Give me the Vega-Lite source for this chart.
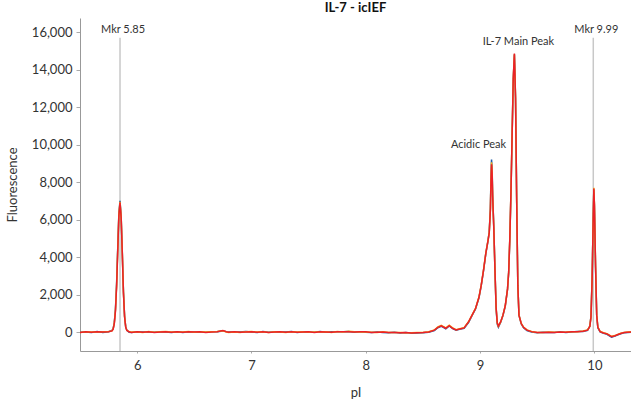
{
  "$schema": "https://vega.github.io/schema/vega-lite/v6.json",
  "width": 551,
  "height": 333,
  "autosize": {"type": "none"},
  "padding": {"left": 80, "top": 18, "right": 0, "bottom": 49},
  "background": "white",
  "config": {
    "view": {"stroke": null},
    "font": "Lato",
    "axis": {"labelFont": "Lato", "titleFont": "Lato", "labelColor": "#333", "titleColor": "#333", "grid": false, "domainColor": "#999", "tickColor": "#aaa", "labelFontSize": 13, "titleFontSize": 13, "titleFontWeight": "normal"}
  },
  "title": {"text": "IL-7 - icIEF", "fontSize": 13, "fontWeight": "bold", "font": "Lato", "color": "#111", "anchor": "middle", "offset": 3},
  "datasets": {
    "trace": [
      {"p": 5.50, "r": -20, "b": -10, "o": -30},
      {"p": 5.55, "r": 10, "b": 0, "o": 20},
      {"p": 5.60, "r": -10, "b": -30, "o": 0},
      {"p": 5.65, "r": 15, "b": 30, "o": 5},
      {"p": 5.70, "r": 0, "b": -20, "o": 10},
      {"p": 5.75, "r": 20, "b": 10, "o": 30},
      {"p": 5.78, "r": 60, "b": 80, "o": 60},
      {"p": 5.79, "r": 150, "b": 180, "o": 160},
      {"p": 5.80, "r": 450, "b": 500, "o": 470},
      {"p": 5.81, "r": 1100, "b": 1200, "o": 1150},
      {"p": 5.82, "r": 2400, "b": 2550, "o": 2450},
      {"p": 5.83, "r": 4300, "b": 4450, "o": 4350},
      {"p": 5.84, "r": 6200, "b": 6300, "o": 6250},
      {"p": 5.85, "r": 6900, "b": 7000, "o": 6950},
      {"p": 5.86, "r": 6100, "b": 6150, "o": 6150},
      {"p": 5.87, "r": 4200, "b": 4250, "o": 4250},
      {"p": 5.88, "r": 2100, "b": 2150, "o": 2150},
      {"p": 5.89, "r": 800, "b": 850, "o": 830},
      {"p": 5.90, "r": 250, "b": 270, "o": 260},
      {"p": 5.91, "r": 80, "b": 90, "o": 90},
      {"p": 5.93, "r": 10, "b": -10, "o": 20},
      {"p": 5.95, "r": -20, "b": -30, "o": 0},
      {"p": 6.00, "r": 10, "b": 20, "o": 0},
      {"p": 6.05, "r": -10, "b": 0, "o": -20},
      {"p": 6.10, "r": 20, "b": 0, "o": 30},
      {"p": 6.15, "r": -20, "b": -10, "o": -10},
      {"p": 6.20, "r": 0, "b": 20, "o": 10},
      {"p": 6.25, "r": 15, "b": -5, "o": 25},
      {"p": 6.30, "r": -15, "b": -25, "o": 0},
      {"p": 6.35, "r": 10, "b": 20, "o": 0},
      {"p": 6.40, "r": -10, "b": -20, "o": 5},
      {"p": 6.45, "r": 20, "b": 10, "o": 30},
      {"p": 6.50, "r": -5, "b": 5, "o": -15},
      {"p": 6.55, "r": 10, "b": -10, "o": 20},
      {"p": 6.60, "r": -20, "b": -10, "o": -5},
      {"p": 6.65, "r": 0, "b": 15, "o": 10},
      {"p": 6.70, "r": 20, "b": 10, "o": 30},
      {"p": 6.75, "r": 80, "b": 60, "o": 70},
      {"p": 6.78, "r": 10, "b": 20, "o": 0},
      {"p": 6.80, "r": -10, "b": 0, "o": -20},
      {"p": 6.85, "r": 10, "b": 20, "o": 0},
      {"p": 6.90, "r": -15, "b": -5, "o": -25},
      {"p": 6.95, "r": 5, "b": 25, "o": 10},
      {"p": 7.00, "r": 20, "b": 0, "o": 30},
      {"p": 7.05, "r": -10, "b": -20, "o": 0},
      {"p": 7.10, "r": 10, "b": 30, "o": 20},
      {"p": 7.15, "r": -20, "b": -10, "o": -30},
      {"p": 7.20, "r": 0, "b": 10, "o": 15},
      {"p": 7.25, "r": 15, "b": -5, "o": 5},
      {"p": 7.30, "r": -10, "b": 0, "o": -20},
      {"p": 7.35, "r": 20, "b": 30, "o": 10},
      {"p": 7.40, "r": -15, "b": -25, "o": -5},
      {"p": 7.45, "r": 5, "b": 15, "o": 20},
      {"p": 7.50, "r": 10, "b": 0, "o": -10},
      {"p": 7.55, "r": -20, "b": -10, "o": 0},
      {"p": 7.60, "r": 15, "b": 25, "o": 5},
      {"p": 7.65, "r": 0, "b": -10, "o": 10},
      {"p": 7.70, "r": -10, "b": 10, "o": -20},
      {"p": 7.75, "r": 20, "b": 10, "o": 30},
      {"p": 7.80, "r": 10, "b": 20, "o": 0},
      {"p": 7.85, "r": 20, "b": 30, "o": 40},
      {"p": 7.90, "r": 0, "b": -10, "o": 10},
      {"p": 7.95, "r": 10, "b": 20, "o": 0},
      {"p": 8.00, "r": 10, "b": -10, "o": 0},
      {"p": 8.05, "r": -20, "b": -30, "o": -10},
      {"p": 8.10, "r": -10, "b": 0, "o": -20},
      {"p": 8.15, "r": 0, "b": -20, "o": 10},
      {"p": 8.20, "r": -30, "b": -40, "o": -20},
      {"p": 8.25, "r": -20, "b": -10, "o": -30},
      {"p": 8.30, "r": -40, "b": -50, "o": -30},
      {"p": 8.35, "r": -30, "b": -20, "o": -40},
      {"p": 8.40, "r": -50, "b": -60, "o": -40},
      {"p": 8.45, "r": -40, "b": -50, "o": -30},
      {"p": 8.50, "r": -30, "b": -40, "o": -20},
      {"p": 8.55, "r": 0, "b": -10, "o": 10},
      {"p": 8.60, "r": 100, "b": 80, "o": 110},
      {"p": 8.63, "r": 250, "b": 230, "o": 270},
      {"p": 8.66, "r": 330, "b": 310, "o": 350},
      {"p": 8.70, "r": 200, "b": 170, "o": 220},
      {"p": 8.73, "r": 340, "b": 320, "o": 360},
      {"p": 8.76, "r": 200, "b": 180, "o": 220},
      {"p": 8.79, "r": 110, "b": 90, "o": 120},
      {"p": 8.82, "r": 160, "b": 140, "o": 170},
      {"p": 8.86, "r": 220, "b": 200, "o": 230},
      {"p": 8.90, "r": 550, "b": 520, "o": 560},
      {"p": 8.93, "r": 900, "b": 880, "o": 910},
      {"p": 8.96, "r": 1250, "b": 1230, "o": 1260},
      {"p": 8.99, "r": 1850, "b": 1830, "o": 1870},
      {"p": 9.01, "r": 2500, "b": 2480, "o": 2520},
      {"p": 9.03, "r": 3300, "b": 3280, "o": 3320},
      {"p": 9.05, "r": 4200, "b": 4180, "o": 4220},
      {"p": 9.07, "r": 4900, "b": 4900, "o": 4920},
      {"p": 9.08, "r": 5300, "b": 5350, "o": 5330},
      {"p": 9.09, "r": 6500, "b": 6600, "o": 6550},
      {"p": 9.095, "r": 8000, "b": 8200, "o": 8100},
      {"p": 9.10, "r": 8950, "b": 9200, "o": 9050},
      {"p": 9.105, "r": 8500, "b": 8700, "o": 8600},
      {"p": 9.11, "r": 7200, "b": 7300, "o": 7250},
      {"p": 9.12, "r": 5500, "b": 5550, "o": 5520},
      {"p": 9.13, "r": 3300, "b": 3300, "o": 3300},
      {"p": 9.14, "r": 1300, "b": 1250, "o": 1300},
      {"p": 9.15, "r": 500, "b": 420, "o": 480},
      {"p": 9.16, "r": 320, "b": 250, "o": 300},
      {"p": 9.18, "r": 550, "b": 520, "o": 540},
      {"p": 9.20, "r": 900, "b": 880, "o": 900},
      {"p": 9.22, "r": 1400, "b": 1380, "o": 1400},
      {"p": 9.24, "r": 2300, "b": 2280, "o": 2300},
      {"p": 9.25, "r": 3200, "b": 3180, "o": 3200},
      {"p": 9.26, "r": 5000, "b": 4950, "o": 5000},
      {"p": 9.27, "r": 7500, "b": 7450, "o": 7500},
      {"p": 9.28, "r": 10500, "b": 10450, "o": 10500},
      {"p": 9.29, "r": 13500, "b": 13450, "o": 13500},
      {"p": 9.30, "r": 14850, "b": 14800, "o": 14820},
      {"p": 9.31, "r": 12500, "b": 12450, "o": 12500},
      {"p": 9.32, "r": 7000, "b": 7000, "o": 7000},
      {"p": 9.33, "r": 2500, "b": 2500, "o": 2500},
      {"p": 9.34, "r": 900, "b": 900, "o": 900},
      {"p": 9.36, "r": 450, "b": 430, "o": 460},
      {"p": 9.38, "r": 250, "b": 230, "o": 260},
      {"p": 9.41, "r": 100, "b": 80, "o": 110},
      {"p": 9.45, "r": 20, "b": 0, "o": 30},
      {"p": 9.50, "r": -30, "b": -40, "o": -20},
      {"p": 9.55, "r": -20, "b": -10, "o": -30},
      {"p": 9.60, "r": -10, "b": -20, "o": 0},
      {"p": 9.65, "r": -20, "b": -30, "o": -10},
      {"p": 9.70, "r": 0, "b": 10, "o": -10},
      {"p": 9.75, "r": -10, "b": -20, "o": 0},
      {"p": 9.80, "r": 10, "b": 0, "o": 20},
      {"p": 9.85, "r": 20, "b": 30, "o": 10},
      {"p": 9.90, "r": 40, "b": 30, "o": 50},
      {"p": 9.94, "r": 100, "b": 90, "o": 110},
      {"p": 9.96, "r": 300, "b": 320, "o": 310},
      {"p": 9.97, "r": 800, "b": 850, "o": 820},
      {"p": 9.98, "r": 2800, "b": 2900, "o": 2850},
      {"p": 9.99, "r": 6200, "b": 6300, "o": 6250},
      {"p": 9.995, "r": 7650, "b": 7600, "o": 7700},
      {"p": 10.00, "r": 6800, "b": 6750, "o": 6850},
      {"p": 10.01, "r": 3500, "b": 3450, "o": 3550},
      {"p": 10.02, "r": 900, "b": 880, "o": 920},
      {"p": 10.03, "r": 250, "b": 230, "o": 260},
      {"p": 10.05, "r": 20, "b": 0, "o": 30},
      {"p": 10.08, "r": -50, "b": -70, "o": -40},
      {"p": 10.11, "r": -100, "b": -120, "o": -90},
      {"p": 10.15, "r": -250, "b": -270, "o": -230},
      {"p": 10.18, "r": -200, "b": -220, "o": -190},
      {"p": 10.20, "r": -150, "b": -160, "o": -140},
      {"p": 10.23, "r": -80, "b": -90, "o": -70},
      {"p": 10.26, "r": -30, "b": -40, "o": -20},
      {"p": 10.29, "r": -10, "b": -20, "o": 0},
      {"p": 10.32, "r": 0, "b": -10, "o": 10}
    ],
    "markers": [
      {"p": 5.85, "label": "Mkr 5.85"},
      {"p": 9.99, "label": "Mkr 9.99"}
    ]
  },
  "encoding": {
    "x": {"field": "p", "type": "quantitative", "scale": {"domain": [5.5, 10.32], "nice": false, "zero": false}, "axis": {"title": "pI", "values": [6, 7, 8, 9, 10], "tickSize": 2, "labelPadding": 6, "titlePadding": 14}}
  },
  "layer": [
    {
      "data": {"name": "markers"},
      "mark": {"type": "rule", "color": "#c8c8c8", "strokeWidth": 1.5},
      "encoding": {
        "y": {"datum": 15700, "type": "quantitative", "scale": {"domain": [-1013, 16750], "nice": false, "zero": false}, "axis": {"title": "Fluorescence", "values": [0, 2000, 4000, 6000, 8000, 10000, 12000, 14000, 16000], "format": ",d", "tickSize": 4, "labelPadding": 4, "titlePadding": 12}},
        "y2": {"datum": -1013}
      }
    },
    {
      "data": {"name": "markers"},
      "mark": {"type": "text", "fontSize": 11, "color": "#333", "dx": 3, "baseline": "middle"},
      "encoding": {
        "y": {"datum": 16120, "type": "quantitative"},
        "text": {"field": "label"}
      }
    },
    {
      "data": {"name": "trace"},
      "mark": {"type": "line", "color": "#1f5aa6", "strokeWidth": 1.5, "clip": true},
      "encoding": {"y": {"field": "b", "type": "quantitative"}}
    },
    {
      "data": {"name": "trace"},
      "mark": {"type": "line", "color": "#f2b21c", "strokeWidth": 1.5, "clip": true},
      "encoding": {"y": {"field": "o", "type": "quantitative"}}
    },
    {
      "data": {"name": "trace"},
      "mark": {"type": "line", "color": "#ec2027", "strokeWidth": 1.5, "clip": true},
      "encoding": {"y": {"field": "r", "type": "quantitative"}}
    },
    {
      "data": {"values": [{"p": 9.10, "f": 8950, "label": "Acidic Peak"}]},
      "mark": {"type": "text", "fontSize": 11, "color": "#333", "dx": -13, "dy": -19, "baseline": "middle"},
      "encoding": {"y": {"field": "f", "type": "quantitative"}, "text": {"field": "label"}}
    },
    {
      "data": {"values": [{"p": 9.30, "f": 14850, "label": "IL-7 Main Peak"}]},
      "mark": {"type": "text", "fontSize": 11, "color": "#333", "dx": 4, "dy": -12, "baseline": "middle"},
      "encoding": {"y": {"field": "f", "type": "quantitative"}, "text": {"field": "label"}}
    }
  ]
}
